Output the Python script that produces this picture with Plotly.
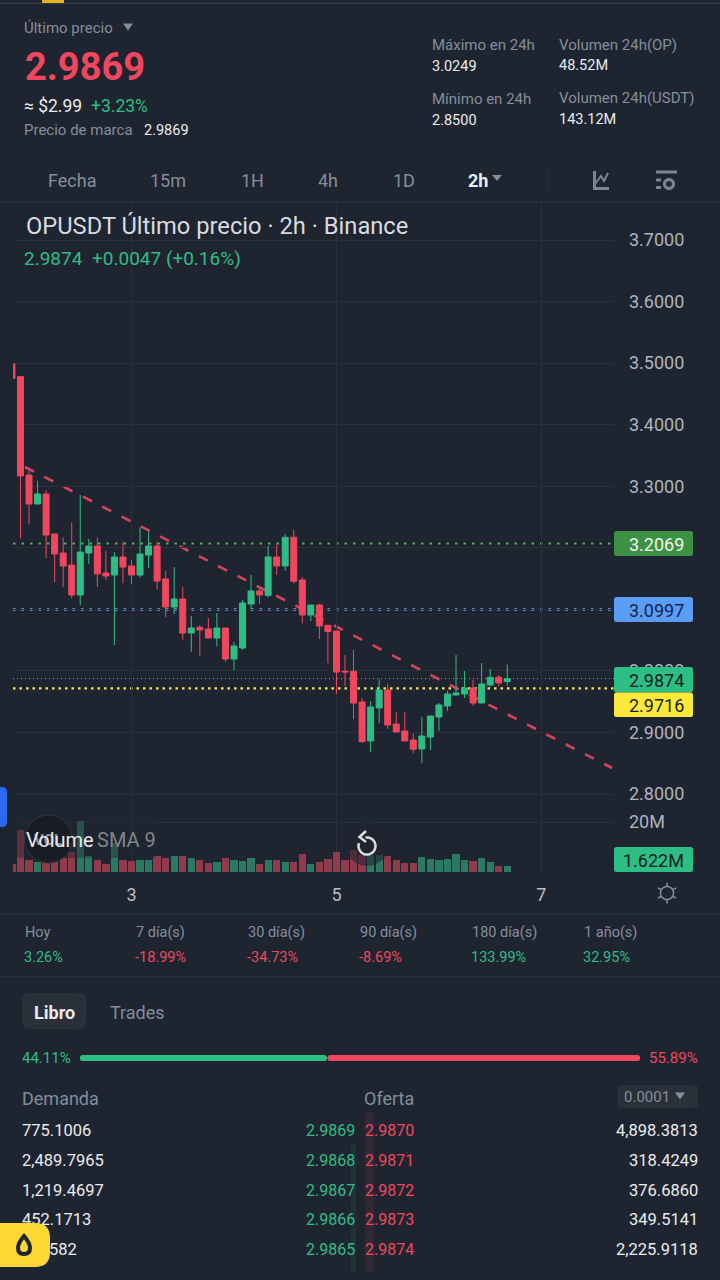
import math
import plotly.graph_objects as go

##candles, oldest first
candle_open = [3.4986,3.4780,3.3182,3.2711,3.2874,3.2224,3.1915,3.1720,3.1233,3.1915,3.2029,3.1590,3.1558,3.1850,3.1704,3.1558,3.1883,3.2029,3.1493,3.1038,3.1168,3.0616,3.0708,3.0681,3.0535,3.0697,3.0193,3.0372,3.1087,3.1299,3.1228,3.1851,3.1705,3.2170,3.1477,3.0909,3.1071,3.0741,3.0649,2.9994,2.9994,2.9495,2.8862,2.9398,2.9690,2.9138,2.9024,2.8878,2.8732,2.8927,2.9252,2.9430,2.9609,2.9625,2.9723,2.9479,2.9772,2.9896,2.9827]
candle_high = [3.4986,3.4780,3.3253,3.3090,3.2939,3.2224,3.2170,3.2408,3.2857,3.2143,3.2164,3.1953,3.1931,3.2099,3.1802,3.2332,3.2262,3.2094,3.1623,3.1688,3.1363,3.0892,3.0746,3.0859,3.0941,3.0697,3.0470,3.1152,3.1559,3.1342,3.2030,3.2046,3.2225,3.2290,3.1521,3.1071,3.1087,3.0741,3.0649,3.0259,3.0340,2.9560,2.9512,2.9864,2.9788,2.9333,2.9328,2.8986,2.9257,2.9268,2.9479,2.9680,3.0259,3.0000,2.9853,3.0129,3.0031,2.9934,3.0102]
candle_low = [3.4753,3.2154,3.2381,3.2711,3.1829,3.1444,3.1358,3.1179,3.1071,3.1737,3.1363,3.1477,3.0421,3.1423,3.1412,3.1520,3.1672,3.1320,3.0876,3.0924,3.0507,3.0307,3.0247,3.0535,3.0399,3.0150,3.0015,3.0340,3.1001,3.1087,3.1196,3.1559,3.1624,3.1423,3.0773,3.0811,3.0519,3.0124,2.9625,2.9755,2.9214,2.8829,2.8683,2.9149,2.9057,2.9008,2.8862,2.8667,2.8499,2.8716,2.9024,2.9349,2.9609,2.9560,2.9430,2.9479,2.9745,2.9745,2.9755]
candle_close = [3.4753,3.3166,3.2711,3.2874,3.2208,3.1899,3.1704,3.1233,3.1931,3.2029,3.1574,3.1542,3.1850,3.1688,3.1558,3.1899,3.2029,3.1460,3.1038,3.1168,3.0616,3.0697,3.0665,3.0535,3.0697,3.0193,3.0405,3.1103,3.1299,3.1234,3.1851,3.1705,3.2170,3.1456,3.0909,3.1071,3.0730,3.0638,2.9983,2.9983,2.9479,2.8851,2.9414,2.9690,2.9122,2.9008,2.8862,2.8727,2.8943,2.9268,2.9447,2.9625,2.9642,2.9723,2.9479,2.9788,2.9896,2.9804,2.9874]

##volume in millions, same order
volume_m = [3.2,16.8,4.8,4.0,4.0,4.8,5.6,8.0,20.5,6.4,5.0,3.2,11.5,5.0,4.4,5.0,5.0,6.4,5.6,6.4,6.4,5.6,4.8,3.5,4.1,5.6,5.0,4.3,5.6,3.2,5.0,4.8,4.0,4.0,7.2,3.2,4.0,5.2,8.0,4.8,9.0,7.0,7.0,7.0,6.4,4.8,3.6,3.6,6.0,5.2,5.0,5.2,7.2,4.8,4.4,5.6,4.0,2.4,2.4]

candle_x = list(range(len(candle_open)))
day_tick_pos = [14, 38, 62]
day_tick_labels = ["3", "5", "7"]
price_ticks = [3.7, 3.6, 3.5, 3.4, 3.3, 3.2, 3.1, 3.0, 2.9, 2.8]
trend_x = [1.53, 70.27]
trend_y = [3.3313, 2.8423]

stat_labels = ["Hoy", "7 día(s)", "30 día(s)", "90 día(s)", "180 día(s)", "1 año(s)"]
stat_values = ["3.26%", "-18.99%", "-34.73%", "-8.69%", "133.99%", "32.95%"]
bid_size = ["775.1006", "2,489.7965", "1,219.4697"]
bid_price = ["2.9869", "2.9868", "2.9867", "2.9866", "2.9865"]
ask_price = ["2.9870", "2.9871", "2.9872", "2.9873", "2.9874"]
ask_size = ["4,898.3813", "318.4249", "376.6860", "349.5141", "2,225.9118"]

BG = "#1f2530"
GRID = "#2a303a"
GREY = "#848e9c"
WHITE = "#eaecef"
UP = "#2ebd85"
DOWN = "#f0475e"
NARROW = "Roboto, sans-serif"
ROBOTO = "Roboto, sans-serif"

fig = go.Figure()

##price pane + volume pane
fig.add_trace(go.Candlestick(x=candle_x, open=candle_open, high=candle_high, low=candle_low, close=candle_close,
                             increasing=dict(line=dict(color=UP, width=1), fillcolor=UP),
                             decreasing=dict(line=dict(color=DOWN, width=1), fillcolor=DOWN),
                             xaxis="x", yaxis="y", showlegend=False))
vol_colors = ["#2a7a63" if c >= o else "#8f3b4b" for o, c in zip(candle_open, candle_close)]
fig.add_trace(go.Bar(x=candle_x, y=volume_m, width=0.85, marker=dict(color=vol_colors, line=dict(width=0)),
                     xaxis="x", yaxis="y2", showlegend=False))

shapes = []
notes = []

def page_shape(path, fill=None, line=None, width=0, layer="above"):
    shapes.append(dict(type="path", xref="x3", yref="y3", path=path, fillcolor=fill or "rgba(0,0,0,0)",
                       line=dict(color=line or "rgba(0,0,0,0)", width=width), layer=layer))

def round_rect(x0, y0, x1, y1, r, **kw):
    page_shape(f"M{x0+r},{y0} L{x1-r},{y0} Q{x1},{y0} {x1},{y0+r} L{x1},{y1-r} Q{x1},{y1} {x1-r},{y1} "
               f"L{x0+r},{y1} Q{x0},{y1} {x0},{y1-r} L{x0},{y0+r} Q{x0},{y0} {x0+r},{y0} Z", **kw)

def rect(x0, y0, x1, y1, fill, layer="above"):
    page_shape(f"M{x0},{y0} L{x1},{y0} L{x1},{y1} L{x0},{y1} Z", fill=fill, layer=layer)

def circle_path(cx, cy, r, a0=0, a1=360, n=48):
    pts = [(cx + r*math.cos(math.radians(a0 + (a1-a0)*i/n)), cy + r*math.sin(math.radians(a0 + (a1-a0)*i/n))) for i in range(n+1)]
    return "M" + " L".join(f"{x:.1f},{y:.1f}" for x, y in pts)

def triangle(cx, cy, w, h, fill):
    page_shape(f"M{cx-w/2},{cy-h/2} L{cx+w/2},{cy-h/2} L{cx},{cy+h/2} Z", fill=fill)

def txt(x, y, text, size, color, anchor="left", font=NARROW, bold=False):
    ##annotations pad their box by 2px, take that back out
    x = x - 2 if anchor == "left" else x + 2 if anchor == "right" else x
    notes.append(dict(xref="x3", yref="y3", x=x, y=y, text=f"<b>{text}</b>" if bold else text, showarrow=False,
                      xanchor=anchor, yanchor="middle", font=dict(family=font, size=size, color=color)))

##level lines and trendline sit under the candles
def level(price, color, dash, width):
    shapes.append(dict(type="line", xref="x domain", yref="y", x0=0, x1=1, y0=price, y1=price, layer="below",
                       line=dict(color=color, width=width, dash=dash)))
level(3.2069, "#58ab5c", "2.5px,6px", 2)
level(3.0997, "#74aefa", "2.5px,6px", 2.4)
level(2.9874, "#6fb7a8", "1px,3px", 1)
level(2.9716, "#f6e84e", "2.5px,4px", 2.2)
shapes.append(dict(type="line", xref="x", yref="y", x0=trend_x[0], x1=trend_x[1], y0=trend_y[0], y1=trend_y[1], layer="below",
                   line=dict(color="#d4455c", width=2.6, dash="10px,11.7px")))

##dividers and top tab
rect(0, 2.5, 720, 4, "#333a45")
rect(42, 0, 64, 3, "#e6b422")
rect(0, 201, 720, 202.5, GRID)
rect(0, 913, 720, 914.5, GRID)
rect(0, 976, 720, 977.5, GRID)

##header
txt(24, 28, "Último precio", 15, GREY)
triangle(128, 27, 10, 7, GREY)
txt(25, 67, "2.9869", 38, DOWN, bold=True)
txt(24, 106, "≈ $2.99", 17.5, WHITE)
txt(91, 106, "+3.23%", 17.5, UP)
txt(24, 130, "Precio de marca", 15, GREY)
txt(144, 130, "2.9869", 14.5, WHITE)
txt(432, 45, "Máximo en 24h", 15, GREY)
txt(432, 66, "3.0249", 14.5, WHITE)
txt(559, 45, "Volumen 24h(OP)", 15, GREY)
txt(559, 65, "48.52M", 14.5, WHITE)
txt(432, 99, "Mínimo en 24h", 15, GREY)
txt(432, 120, "2.8500", 14.5, WHITE)
txt(559, 98, "Volumen 24h(USDT)", 15, GREY)
txt(559, 119, "143.12M", 14.5, WHITE)

for label, cx in zip(["Fecha", "15m", "1H", "4h", "1D"], [72, 168, 252, 328, 404]):
    txt(cx, 180, label, 18, GREY, anchor="center")
txt(478, 180, "2h", 18, WHITE, anchor="center", bold=True)
triangle(497, 178, 10, 6, GREY)
rect(548, 170, 549, 190, GRID)

##chart toolbar icons
page_shape("M594.5,171 L594.5,188.5 L609,188.5", line="#7d8591", width=3)
page_shape("M595,184 L601,176 L604,181 L608,173", line="#7d8591", width=2)
rect(656, 170.5, 677, 173.5, "#7d8591")
rect(656, 178.5, 661, 181.5, "#7d8591")
rect(656, 186, 661, 189, "#7d8591")
page_shape(circle_path(669, 184, 4.5), line="#7d8591", width=3)

##chart titles
txt(26, 226, "OPUSDT Último precio · 2h · Binance", 23.7, "#d8dbe0", font=ROBOTO)
txt(24, 258, "2.9874", 19, UP, font=ROBOTO)
txt(92, 258, "+0.0047 (+0.16%)", 19, UP, font=ROBOTO)

##legend fade, badge and reload button over the volume bars
rect(13, 815, 155, 858, "rgba(31,37,48,0.45)")
page_shape(circle_path(48.5, 839, 24) + " Z", fill="rgba(24,28,35,0.9)", line="#333a45", width=1)
txt(48, 840, "VOL", 15, "#8f949c", anchor="center", font=ROBOTO, bold=True)
txt(26, 840, "Volume", 20, "#e8e8e8", font=ROBOTO)
txt(97, 840, "SMA 9", 20, "#7f858e", font=ROBOTO)
page_shape(circle_path(367, 844, 22) + " Z", fill="rgba(31,37,48,0.6)")
page_shape(circle_path(367, 846, 8.5, -100, 200), line="#dcdcdc", width=2.5)
page_shape("M366,831 L359.5,837 L366,842", line="#dcdcdc", width=2.5)
page_shape("M2,787 Q7,787 7,792 L7,822 Q7,827 2,827 L0,827 L0,787 Z", fill="#2a6af0")

##price tags
def tag(y0, y1, fill, text, color):
    round_rect(614, y0, 693, y1, 2.5, fill=fill)
    txt(684, (y0+y1)/2 + 0.5, text, 18, color, anchor="right", font=ROBOTO)
tag(531, 556, "#3c9142", "3.2069", "#f2f6f0")
tag(597, 622, "#5b9cf6", "3.0997", "#16264a")
tag(667, 692.5, UP, "2.9874", "#10221c")
tag(692.5, 717, "#fce93b", "2.9716", "#201e10")
tag(847, 872, UP, "1.622M", "#10221c")

##sun icon next to the time axis
page_shape(circle_path(667, 893, 6.5) + " Z", line="#848e9c", width=1.5)
for a in range(0, 360, 60):
    c, s = math.cos(math.radians(a + 30)), math.sin(math.radians(a + 30))
    page_shape(f"M{667+7*c:.1f},{893+7*s:.1f} L{667+10.5*c:.1f},{893+10.5*s:.1f}", line="#848e9c", width=1.5)

##change stats
for label, val, x in zip(stat_labels, stat_values, [25, 136, 248, 360, 472, 584]):
    txt(x, 932, label, 14.5, GREY)
    txt(x - 1, 957, val, 14.5, DOWN if val.startswith("-") else UP)

##order book
round_rect(22, 993, 86, 1029, 7, fill="#2a303a")
txt(54, 1012, "Libro", 18, WHITE, anchor="center", bold=True)
txt(137, 1012, "Trades", 18, GREY, anchor="center")
txt(22, 1058, "44.11%", 15, UP)
txt(698, 1058, "55.89%", 15, DOWN, anchor="right")
round_rect(80, 1055, 327, 1061, 2.5, fill=UP)
round_rect(327.5, 1055, 640, 1061, 2.5, fill=DOWN)
txt(22, 1098, "Demanda", 18, GREY)
txt(364, 1098, "Oferta", 18, GREY)
round_rect(618, 1085, 698, 1108, 3, fill="#2a303a")
txt(624, 1097, "0.0001", 15, GREY)
triangle(680, 1096, 10, 7, GREY)
rect(351, 1143, 356, 1272, "rgba(46,189,133,0.09)", layer="below")
rect(365, 1112, 374, 1272, "rgba(240,71,94,0.09)", layer="below")

row_y = [1130, 1160, 1190, 1219, 1249]
for size, y in zip(bid_size, row_y):
    txt(22, y, size, 16.5, WHITE)
for bid, ask, size, y in zip(bid_price, ask_price, ask_size, row_y):
    txt(355, y, bid, 16, UP, anchor="right")
    txt(365, y, ask, 16, DOWN)
    txt(698, y, size, 16.5, WHITE, anchor="right")

##these two rows go behind the yellow button, so they are a trace not annotations
fig.add_trace(go.Scatter(x=[22, 49], y=[1221, 1251], mode="text", text=["452.1713", "582"], textposition="middle right",
                         textfont=dict(family=NARROW, size=16.5, color=WHITE), xaxis="x3", yaxis="y3",
                         showlegend=False, hoverinfo="skip", cliponaxis=False))
page_shape("M0,1223 L35,1223 Q50,1223 50,1238 L50,1252 Q50,1267 35,1267 L0,1267 Z", fill="#fdd835")
page_shape("M24,1236 Q30,1243 30,1248 Q30,1254 24,1254 Q18,1254 18,1248 Q18,1243 24,1236 Z", fill="#fdd835", line="#1f2530", width=4)

fig.update_layout(
    width=720, height=1280, margin=dict(l=0, r=0, t=0, b=0, pad=0),
    paper_bgcolor=BG, plot_bgcolor="rgba(0,0,0,0)", showlegend=False, shapes=shapes, annotations=notes, bargap=0,
    boxgap=0.3, boxgroupgap=0,
    xaxis=dict(domain=[13/720, 614/720], range=[0.124, 70.5], anchor="y2", rangeslider=dict(visible=False),
               tickmode="array", tickvals=day_tick_pos, ticktext=day_tick_labels, ticks="",
               ticklabelstandoff=10, tickfont=dict(family=ROBOTO, size=18, color="#b7bdc6"),
               showgrid=True, gridcolor=GRID, gridwidth=1, zeroline=False, showline=False),
    yaxis=dict(domain=[1-812/1280, 1-202/1280], range=[3.7-(812-240)/615.6, 3.7+(240-202)/615.6], side="right", anchor="x",
               tickmode="array", tickvals=price_ticks, ticktext=[f"{p:.4f}" for p in price_ticks], ticks="",
               ticklabelstandoff=14, tickfont=dict(family=ROBOTO, size=18, color="#aeb4bc"),
               showgrid=True, gridcolor=GRID, gridwidth=1, zeroline=False, showline=False),
    yaxis2=dict(domain=[1-872/1280, 1-812/1280], range=[0, 24], side="right", anchor="x",
                tickmode="array", tickvals=[20], ticktext=["20M"], ticks="",
                ticklabelstandoff=14, tickfont=dict(family=ROBOTO, size=18, color="#aeb4bc"),
                showgrid=True, gridcolor=GRID, gridwidth=1, zeroline=False, showline=False),
    xaxis3=dict(domain=[0, 1], range=[0, 720], visible=False, anchor="y3", fixedrange=True),
    yaxis3=dict(domain=[0, 1], range=[1280, 0], visible=False, anchor="x3", fixedrange=True),
)

fig.write_html("out.html", config=dict(displayModeBar=False),
               post_script="document.body.style.margin='0';document.documentElement.style.background='#1f2530';")
